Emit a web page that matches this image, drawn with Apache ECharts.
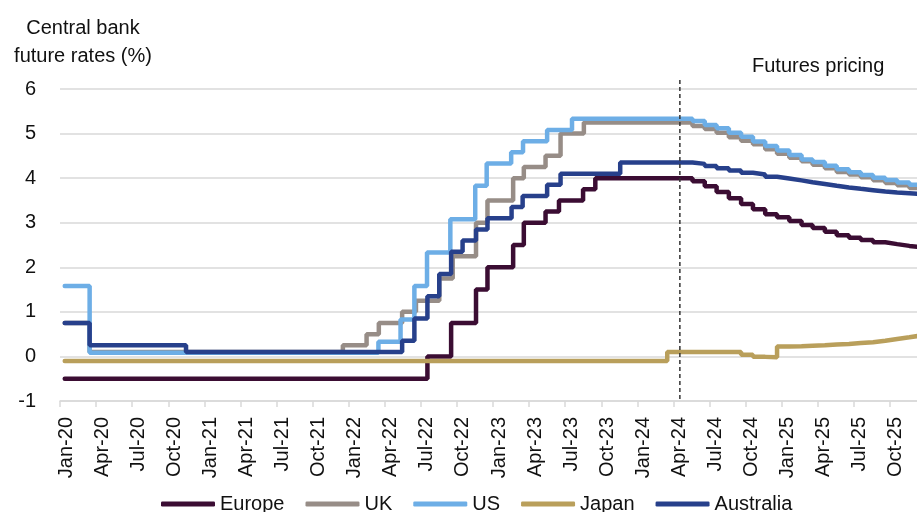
<!DOCTYPE html>
<html><head><meta charset="utf-8">
<script src="https://cdn.jsdelivr.net/npm/echarts@6/dist/echarts.min.js"></script>
<style>html,body{margin:0;padding:0;background:#fff}#c{width:917px;height:512px}</style>
</head><body><div id="c"></div>
<script>
const FONT = '"Liberation Sans", Arial, sans-serif';
const FS = 20;
const TEXT = '#111111';

const seriesNames = ['Europe', 'UK', 'US', 'Japan', 'Australia'];
const seriesColors = ['#3b0d33', '#978d87', '#6daee6', '#b99f5b', '#27408b'];

const quarterLabels = ['Jan-20','Apr-20','Jul-20','Oct-20','Jan-21','Apr-21','Jul-21','Oct-21',
  'Jan-22','Apr-22','Jul-22','Oct-22','Jan-23','Apr-23','Jul-23','Oct-23',
  'Jan-24','Apr-24','Jul-24','Oct-24','Jan-25','Apr-25','Jul-25','Oct-25'];

// Policy-rate history: [date the level starts, level %]
const europeHist = [['2020-01-13',-0.5],['2022-07-19',0],['2022-09-17',0.75],['2022-11-19',1.5],
  ['2022-12-18',2.0],['2023-02-21',2.5],['2023-03-20',3.0],['2023-05-14',3.25],['2023-06-17',3.5],
  ['2023-08-17',3.75],['2023-09-17',4.0]];
const ukHist = [['2020-01-13',0.75],['2020-03-16',0.1],['2021-12-17',0.25],['2022-02-15',0.5],
  ['2022-03-18',0.75],['2022-05-16',1.0],['2022-06-20',1.25],['2022-08-18',1.75],['2022-09-21',2.25],
  ['2022-11-19',3.0],['2022-12-18',3.5],['2023-02-21',4.0],['2023-03-20',4.25],['2023-05-14',4.5],
  ['2023-06-21',5.0],['2023-08-19',5.25]];
const usHist = [['2020-01-13',1.58],['2020-03-16',0.08],['2022-03-17',0.33],['2022-05-12',0.83],
  ['2022-06-16',1.58],['2022-07-18',2.33],['2022-09-15',3.08],['2022-11-17',3.83],['2022-12-16',4.33],
  ['2023-02-16',4.58],['2023-03-18',4.83],['2023-05-18',5.08],['2023-07-20',5.33]];
const japanHist = [['2020-01-13',-0.1],['2024-03-17',0.1]];
const australiaHist = [['2020-01-13',0.75],['2020-03-16',0.25],['2020-11-15',0.1],['2022-05-16',0.35],
  ['2022-06-16',0.85],['2022-07-19',1.35],['2022-08-18',1.85],['2022-09-17',2.35],['2022-10-16',2.6],
  ['2022-11-19',2.85],['2022-12-18',3.1],['2023-02-17',3.35],['2023-03-17',3.6],['2023-05-18',3.85],
  ['2023-06-21',4.1],['2023-11-19',4.35]];

// Futures pricing (monthly)
const futuresStart = '2024-04-18';
const futureDates = ['2024-04-18','2024-05-20','2024-06-20','2024-07-20','2024-08-20','2024-09-20',
  '2024-10-20','2024-11-20','2024-12-20','2025-01-20','2025-02-20','2025-03-20','2025-04-20',
  '2025-05-20','2025-06-20','2025-07-20','2025-08-20','2025-09-20','2025-10-20','2025-11-20','2025-12-20'];
const europeFut = [4.0,3.93,3.82,3.69,3.55,3.42,3.3,3.19,3.12,3.04,2.95,2.88,2.8,2.72,2.66,2.61,2.56,2.52,2.48,2.45,2.42];
const ukFut = [5.25,5.17,5.1,5.02,4.92,4.84,4.76,4.65,4.55,4.46,4.38,4.3,4.22,4.14,4.08,4.02,3.95,3.89,3.84,3.78,3.74];
const usFut = [5.33,5.28,5.19,5.12,5.02,4.93,4.82,4.72,4.62,4.52,4.42,4.36,4.28,4.2,4.13,4.07,4.01,3.96,3.9,3.85,3.8];
const japanFut = [0.1,0.1,0.1,0.1,0.1,0.04,-0.01,-0.02,0.22,0.23,0.24,0.25,0.27,0.28,0.3,0.32,0.35,0.39,0.43,0.47,0.5];
const australiaFut = [4.35,4.32,4.27,4.22,4.17,4.12,4.08,4.03,3.99,3.95,3.91,3.87,3.83,3.79,3.76,3.73,3.7,3.68,3.66,3.64,3.62];

const dashTop = 6.2, dashBottom = -1;
const axisStart = '2020-01-01', axisEnd = '2026-01-01';

const hist = [europeHist, ukHist, usHist, japanHist, australiaHist];
const fut = [europeFut, ukFut, usFut, japanFut, australiaFut];

// 72 monthly slots for the label / tick axes
const monthKeys = [];
quarterLabels.forEach(q => { monthKeys.push(q, q + '_b', q + '_c'); });

const chart = echarts.init(document.getElementById('c'), null, {renderer: 'canvas'});

const series = seriesNames.map((name, k) => ({
  name, type: 'line', step: 'end', xAxisIndex: 0, yAxisIndex: 0,
  showSymbol: false, symbol: 'none', animation: false,
  color: seriesColors[k],
  lineStyle: {width: 4.5, color: seriesColors[k], cap: 'round'},
  emphasis: {disabled: true},
  data: hist[k].concat(futureDates.map((d, i) => [d, fut[k][i]]))
}));

chart.setOption({
  animation: false,
  grid: {left: 60, width: 866, top: 89, height: 312, containLabel: false, outerBoundsMode: 'none'},
  xAxis: [
    {type: 'time', min: axisStart, max: axisEnd, show: false, position: 'bottom'},
    {type: 'category', data: monthKeys, boundaryGap: true, position: 'bottom',
      axisLine: {show: true, onZero: true, lineStyle: {color: '#d9d9d9', width: 1.5}},
      axisTick: {show: true, interval: 2, length: 6, lineStyle: {color: '#d9d9d9', width: 1.5}},
      axisLabel: {show: false}, splitLine: {show: false}},
    {type: 'category', data: monthKeys, boundaryGap: true, position: 'bottom',
      axisLine: {show: false, onZero: false}, axisTick: {show: false}, splitLine: {show: false},
      axisLabel: {interval: 0, rotate: 90, margin: 16, fontFamily: FONT, fontSize: FS, color: TEXT,
        formatter: (v, i) => (i % 3 === 0 ? quarterLabels[i / 3] : '')}}
  ],
  yAxis: {type: 'value', min: -1, max: 6, interval: 1,
    axisLine: {show: false}, axisTick: {show: false},
    splitLine: {lineStyle: {color: '#d9d9d9', width: 1.5}},
    axisLabel: {margin: 24, fontFamily: FONT, fontSize: FS, color: TEXT}},
  legend: {left: 161, top: 494, padding: 0, icon: 'roundRect', itemWidth: 54, itemHeight: 5, itemGap: 21,
    data: seriesNames, textStyle: {fontFamily: FONT, fontSize: FS, color: TEXT}},
  series
});

const p1 = chart.convertToPixel({xAxisIndex: 0, yAxisIndex: 0}, [futuresStart, dashTop]);
const p2 = chart.convertToPixel({xAxisIndex: 0, yAxisIndex: 0}, [futuresStart, dashBottom]);

chart.setOption({
  graphic: [
    {type: 'line', shape: {x1: p1[0], y1: p1[1], x2: p2[0], y2: p2[1]},
      style: {stroke: '#333333', lineWidth: 1.5, lineDash: [4, 3]}, z: 10},
    {type: 'text', x: 83, y: 15,
      style: {text: 'Central bank\nfuture rates (%)', fontFamily: FONT, fontSize: FS, lineHeight: 27.5,
        fill: TEXT, align: 'center', verticalAlign: 'top'}},
    {type: 'text', x: 752, y: 66,
      style: {text: 'Futures pricing', fontFamily: FONT, fontSize: FS, fill: TEXT,
        align: 'left', verticalAlign: 'middle'}}
  ]
});
</script>
</body></html>
